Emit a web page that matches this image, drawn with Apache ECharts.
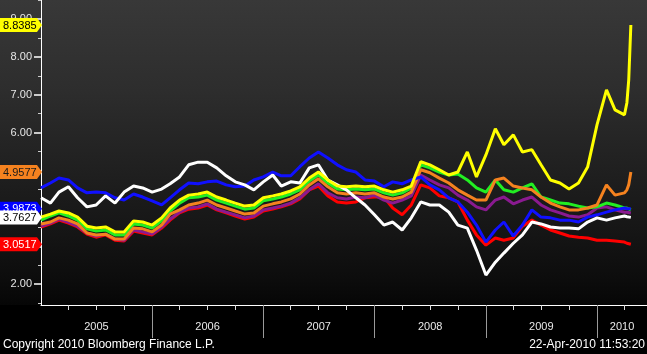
<!DOCTYPE html>
<html><head><meta charset="utf-8">
<script src="https://cdn.jsdelivr.net/npm/echarts@6/dist/echarts.min.js"></script>
<style>html,body{margin:0;padding:0;background:#000;}#c{width:647px;height:354px;}</style>
</head><body><div id="c"></div>
<script>
const dates = [
'2005-01-01','2005-02-01','2005-03-01','2005-04-01','2005-05-01','2005-06-01','2005-07-01','2005-08-01','2005-09-01','2005-10-01','2005-11-01','2005-12-01',
'2006-01-01','2006-02-01','2006-03-01','2006-04-01','2006-05-01','2006-06-01','2006-07-01','2006-08-01','2006-09-01','2006-10-01','2006-11-01','2006-12-01',
'2007-01-01','2007-02-01','2007-03-01','2007-04-01','2007-05-01','2007-06-01','2007-07-01','2007-08-01','2007-09-01','2007-10-01','2007-11-01','2007-12-01',
'2008-01-01','2008-02-01','2008-03-01','2008-04-01','2008-05-01','2008-06-01','2008-07-01','2008-08-01','2008-09-01','2008-10-01','2008-11-01','2008-12-01',
'2009-01-01','2009-02-01','2009-03-01','2009-04-01','2009-05-01','2009-06-01','2009-07-01','2009-08-01','2009-09-01','2009-10-01','2009-11-01','2009-12-01',
'2010-01-01','2010-02-01','2010-03-01','2010-04-01','2010-04-09','2010-04-15','2010-04-22'];

const yellow = [3.77,3.85,3.93,3.88,3.77,3.53,3.48,3.51,3.38,3.38,3.67,3.64,
3.56,3.75,4.01,4.22,4.35,4.38,4.43,4.30,4.22,4.14,4.06,4.09,
4.28,4.33,4.38,4.46,4.57,4.80,4.96,4.75,4.59,4.57,4.59,4.57,
4.59,4.49,4.43,4.49,4.59,5.23,5.15,5.02,4.88,4.96,5.49,4.83,
5.41,6.10,5.68,5.94,5.49,5.55,5.15,4.75,4.67,4.51,4.67,5.09,
6.21,7.13,6.60,6.47,6.79,7.39,8.8385];

const green = [3.69,3.80,3.88,3.80,3.69,3.46,3.40,3.43,3.30,3.30,3.59,3.56,
3.48,3.67,3.93,4.14,4.28,4.30,4.35,4.22,4.14,4.06,3.98,4.01,
4.20,4.25,4.30,4.38,4.49,4.72,4.88,4.67,4.51,4.49,4.51,4.49,
4.51,4.41,4.35,4.41,4.54,5.15,5.07,4.96,4.88,4.91,4.75,4.54,
4.43,4.75,4.49,4.43,4.54,4.65,4.30,4.22,4.14,4.12,4.06,4.01,
4.04,4.14,4.09,4.01,4.01,3.99,3.96];

const orange = [3.59,3.64,3.75,3.69,3.59,3.35,3.30,3.32,3.19,3.19,3.48,3.46,
3.38,3.56,3.85,3.96,4.09,4.14,4.22,4.09,4.01,3.93,3.85,3.88,
4.06,4.12,4.17,4.25,4.38,4.62,4.78,4.57,4.41,4.38,4.41,4.38,
4.41,4.30,4.25,4.30,4.43,5.02,4.94,4.80,4.67,4.49,4.35,4.22,
4.22,4.75,4.80,4.59,4.54,4.49,4.30,4.14,4.04,3.96,3.96,4.01,
4.09,4.62,4.35,4.41,4.49,4.62,4.9577];

const purple = [3.53,3.61,3.72,3.64,3.53,3.35,3.27,3.32,3.19,3.16,3.43,3.38,
3.32,3.51,3.72,3.90,4.01,4.04,4.12,3.98,3.90,3.83,3.75,3.80,
3.96,4.01,4.06,4.14,4.28,4.49,4.65,4.41,4.28,4.25,4.30,4.28,
4.35,4.22,4.14,4.22,4.33,4.88,4.75,4.62,4.54,4.35,4.22,4.04,
3.96,4.22,4.30,4.12,4.22,4.30,4.09,3.96,3.88,3.80,3.77,3.83,
4.01,4.04,3.96,3.90,3.90,3.88,3.88];

const red = [3.51,3.59,3.69,3.61,3.51,3.32,3.24,3.30,3.16,3.14,3.40,3.35,
3.30,3.48,3.69,3.88,3.98,4.01,4.09,3.96,3.88,3.80,3.72,3.77,
3.93,3.98,4.04,4.12,4.25,4.49,4.59,4.33,4.17,4.14,4.17,4.28,
4.30,4.30,4.01,3.83,4.09,4.62,4.54,4.33,4.28,4.17,3.69,3.30,
3.03,3.22,3.16,3.22,3.53,3.69,3.56,3.43,3.35,3.27,3.24,3.22,
3.16,3.16,3.14,3.11,3.08,3.07,3.0517];

const blue = [4.54,4.67,4.80,4.75,4.54,4.41,4.43,4.41,4.28,4.22,4.38,4.30,
4.20,4.09,4.28,4.49,4.67,4.65,4.70,4.72,4.62,4.57,4.59,4.75,
4.83,4.96,4.86,4.86,5.10,5.33,5.49,5.33,5.15,5.02,4.96,4.75,
4.72,4.57,4.70,4.65,4.75,4.83,4.62,4.49,4.28,4.17,3.90,3.56,
3.11,3.43,3.64,3.27,3.56,3.96,3.77,3.75,3.69,3.69,3.64,3.77,
3.83,3.90,3.96,4.01,3.99,4.01,3.9873];

const white = [4.28,4.14,4.43,4.57,4.28,4.04,4.09,4.33,4.14,4.43,4.59,4.54,
4.43,4.51,4.65,4.83,5.15,5.22,5.22,5.07,4.86,4.70,4.62,4.49,
4.70,4.88,4.59,4.70,4.67,5.07,5.15,4.75,4.62,4.49,4.28,4.09,
3.83,3.56,3.64,3.43,3.75,4.17,4.09,4.09,3.90,3.56,3.48,2.90,
2.24,2.58,2.82,3.08,3.30,3.64,3.59,3.51,3.48,3.48,3.46,3.64,
3.75,3.69,3.75,3.80,3.78,3.75,3.7627];

const yTickLabels = [2,3,4,5,6,7,8,9];
const yMinorTicks = [1.5,2.5,3.5,4.5,5.5,6.5,7.5,8.5,9.5];
const quarterTicks = ['2005-04-01','2005-07-01','2005-10-01','2006-01-01','2006-04-01','2006-07-01','2006-10-01',
'2007-01-01','2007-04-01','2007-07-01','2007-10-01','2008-01-01','2008-04-01','2008-07-01','2008-10-01',
'2009-01-01','2009-04-01','2009-07-01','2009-10-01','2010-01-01','2010-04-01'];
const yearTicks = ['2006-01-01','2007-01-01','2008-01-01','2009-01-01','2010-01-01'];
const yearLabelDates = ['2005-07-02','2006-07-02','2007-07-02','2008-07-02','2009-07-02','2010-03-24'];
const yearLabels = ['2005','2006','2007','2008','2009','2010'];

const ts = s => new Date(s + 'T00:00:00').getTime();
const FONT = '"Liberation Sans", Arial, sans-serif';
const xMin = ts('2005-01-01'), xMax = ts('2010-06-14');
const yMin = 1.45, yMax = 9.5;

const seriesDefs = [
  {name:'Red', data:red, color:'#ff0000'},
  {name:'Purple', data:purple, color:'#8a1a90'},
  {name:'Green', data:green, color:'#22ee22'},
  {name:'Orange', data:orange, color:'#f5821f'},
  {name:'Blue', data:blue, color:'#1010ff'},
  {name:'White', data:white, color:'#ffffff'},
  {name:'Yellow', data:yellow, color:'#ffff00'}
];

const chart = echarts.init(document.getElementById('c'), null, {renderer:'canvas'});

const bg = {
  type:'rect', id:'bg', z:-10, silent:true,
  shape:{x:0, y:0, width:647, height:305},
  style:{fill: new echarts.graphic.LinearGradient(0,0,0,1,[
    {offset:0, color:'#383838'},
    {offset:0.3, color:'#2d2d2d'},
    {offset:0.55, color:'#202020'},
    {offset:0.75, color:'#161616'},
    {offset:0.92, color:'#0c0c0c'},
    {offset:1, color:'#060606'}
  ])}
};
const copyright = {type:'text', id:'copy', x:3, y:345, z:50, silent:true,
  style:{text:'Copyright 2010 Bloomberg Finance L.P.', fill:'#ffffff', font:'12px ' + FONT, verticalAlign:'middle', textAlign:'left'}};
const stamp = {type:'text', id:'stamp', x:645, y:345, z:50, silent:true,
  style:{text:'22-Apr-2010 11:53:20', fill:'#ffffff', font:'12px ' + FONT, verticalAlign:'middle', textAlign:'right'}};

const yearOf = (v) => {
  const i = yearLabelDates.map(ts).indexOf(v);
  return i >= 0 ? yearLabels[i] : '';
};

chart.setOption({
  animation:false,
  backgroundColor:'#000000',
  grid:{left:41, right:0, top:0, bottom:49, containLabel:false},
  xAxis:[
    {type:'value', min:xMin, max:xMax, position:'bottom', scale:true,
     axisLine:{show:true, onZero:false, lineStyle:{color:'#ffffff', width:1}},
     axisTick:{show:true, customValues:quarterTicks.map(ts), length:5, lineStyle:{color:'#dddddd', width:1}},
     axisLabel:{show:false}, splitLine:{show:false}},
    {type:'value', min:xMin, max:xMax, position:'bottom', scale:true,
     axisLine:{show:false, onZero:false},
     axisTick:{show:true, customValues:yearTicks.map(ts), length:33, lineStyle:{color:'#9a9a9a', width:1}},
     axisLabel:{show:true, customValues:yearLabelDates.map(ts), formatter:yearOf,
       color:'#e8e8e8', fontSize:11, fontFamily:FONT, margin:16, hideOverlap:false},
     splitLine:{show:false}}
  ],
  yAxis:[
    {type:'value', min:yMin, max:yMax, position:'left',
     axisLine:{show:true, onZero:false, lineStyle:{color:'#ffffff', width:1}},
     axisTick:{show:true, customValues:yTickLabels, length:7, lineStyle:{color:'#ffffff', width:1.5}},
     axisLabel:{show:true, customValues:yTickLabels, formatter:(v)=>Number(v).toFixed(2), color:'#e6e6e6', fontSize:11, fontFamily:FONT, margin:9},
     splitLine:{show:false}},
    {type:'value', min:yMin, max:yMax, position:'left',
     axisLine:{show:false, onZero:false},
     axisTick:{show:true, customValues:yMinorTicks, length:3, lineStyle:{color:'#cccccc', width:1}},
     axisLabel:{show:false}, splitLine:{show:false}}
  ],
  series: seriesDefs.map(s => ({
    type:'line', name:s.name, xAxisIndex:0, yAxisIndex:0,
    data: dates.map((d,i)=>[ts(d), s.data[i]]),
    showSymbol:false, symbol:'none', smooth:false,
    lineStyle:{color:s.color, width:3}, itemStyle:{color:s.color},
    emphasis:{disabled:true}
  })),
  graphic:[bg, copyright, stamp]
});

const tagDefs = [
  {data:yellow, fill:'#ffff00', text:'#000000'},
  {data:orange, fill:'#f5821f', text:'#1a1a1a'},
  {data:blue, fill:'#0000ff', text:'#ffffff'},
  {data:white, fill:'#ffffff', text:'#000000'},
  {data:red, fill:'#ff0000', text:'#ffffff'}
];
const tags = tagDefs.map((t, i) => {
  const v = t.data[t.data.length - 1];
  const y = chart.convertToPixel({yAxisIndex:0}, v);
  return {type:'group', id:'tag'+i, z:100 + i, silent:true, children:[
    {type:'polygon', z:100 + i, shape:{points:[[0,y-7],[37,y-7],[42,y],[37,y+7],[0,y+7]]}, style:{fill:t.fill}},
    {type:'text', z:100 + i, x:3, y:y+0.5, style:{text:v.toFixed(4), fill:t.text, font:'11px ' + FONT, verticalAlign:'middle', textAlign:'left'}}
  ]};
});
chart.setOption({graphic:[bg, copyright, stamp].concat(tags)});
</script>
</body></html>
